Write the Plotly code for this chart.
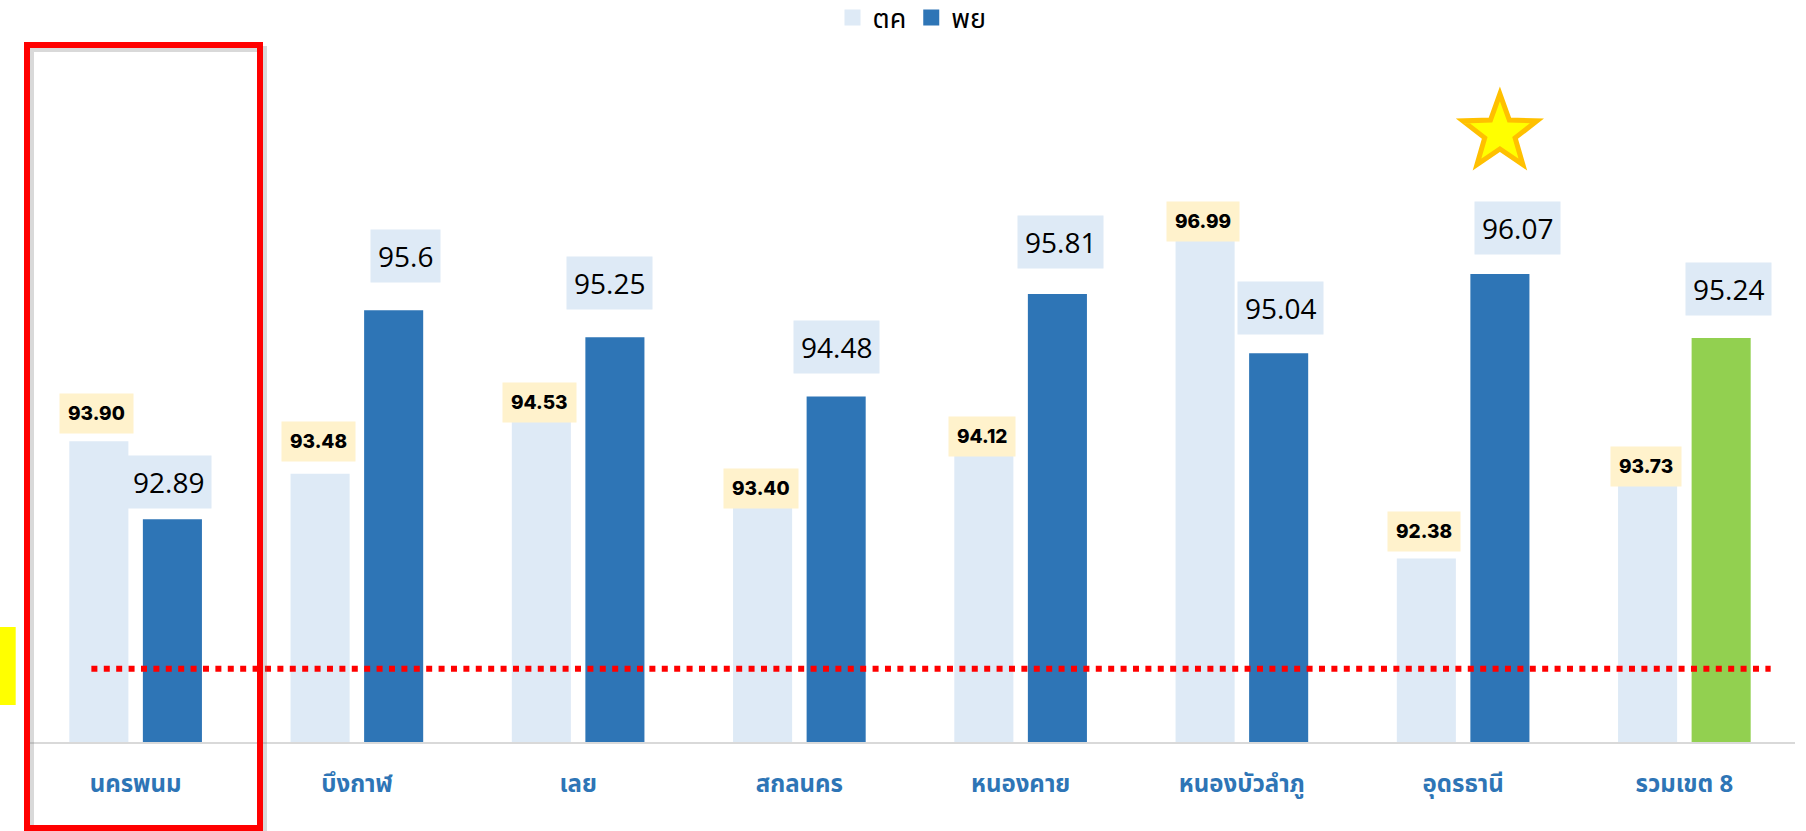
import numpy as np
import plotly.graph_objects as go

# ---------------- data ----------------
categories = ["นครพนม", "บึงกาฬ", "เลย", "สกลนคร", "หนองคาย", "หนองบัวลำภู", "อุดรธานี", "รวมเขต 8"]
oct_values = [93.90, 93.48, 94.53, 93.40, 94.12, 96.99, 92.38, 93.73]
nov_values = [92.89, 95.6, 95.25, 94.48, 95.81, 95.04, 96.07, 95.24]
oct_labels = ["93.90", "93.48", "94.53", "93.40", "94.12", "96.99", "92.38", "93.73"]
nov_labels = ["92.89", "95.6", "95.25", "94.48", "95.81", "95.04", "96.07", "95.24"]
target_value = 90.95
series_names = ["ตค", "พย"]

# ---------------- style / layout ----------------
W, H = 1806, 831
M_L, M_R, M_T, M_B = 25, 11, 48, 89
Y_RANGE = [90, 99]
LIGHT = "#DEEAF6"
DARK = "#2E75B6"
GREEN = "#92D050"
CREAM = "#FFF2CC"
THAI = "Noto Sans Thai, Tahoma, Leelawadee UI, DejaVu Sans, sans-serif"

# manual label nudges (pixels) to mimic hand-placed labels of the original
oct_label_dy = [28, 32, -10, -9, -12, -19, 27, -12]
nov_label_dy = [37, 54, 54, 50, 52, 45, 46, 49]
nov_label_dx = [-4, 12, -5, 0, 3, 2, 18, 7]

BARGAP = 0.335

plot_w = W - M_L - M_R
plot_h = H - M_T - M_B
cat_px = plot_w / len(categories)
BAR_OFF = cat_px * (1 - BARGAP) / 4


def px_x(p):
    return (p - M_L) / plot_w


def px_y(p):
    return (H - M_B - p) / plot_h


nov_colors = [DARK] * (len(categories) - 1) + [GREEN]

fig = go.Figure()
fig.add_trace(go.Bar(name=series_names[0], x=categories, y=oct_values, showlegend=False,
                     marker=dict(color=LIGHT, line=dict(width=0))))
fig.add_trace(go.Bar(name=series_names[1], x=categories, y=nov_values, showlegend=False,
                     marker=dict(color=nov_colors, line=dict(width=0))))
# legend entries with larger square swatches
for name, col in zip(series_names, [LIGHT, DARK]):
    fig.add_trace(go.Scatter(name=name, x=[None], y=[None], mode="markers",
                             marker=dict(symbol="square", size=20, color=col),
                             showlegend=True, hoverinfo="skip"))

annotations = []
for i, c in enumerate(categories):
    annotations.append(dict(
        x=c, y=oct_values[i], xref="x", yref="y", text=oct_labels[i],
        showarrow=False, xanchor="center", yanchor="middle",
        xshift=-BAR_OFF - 2, yshift=oct_label_dy[i],
        font=dict(family="Inter, Open Sans, sans-serif", size=19, color="#000000", weight=800),
        bgcolor=CREAM, borderpad=8))
    annotations.append(dict(
        x=c, y=nov_values[i], xref="x", yref="y", text=nov_labels[i],
        showarrow=False, xanchor="center", yanchor="middle",
        xshift=BAR_OFF + nov_label_dx[i], yshift=nov_label_dy[i],
        font=dict(family="Open Sans, sans-serif", size=28, color="#000000"),
        bgcolor=LIGHT, borderpad=7))

shapes = []
# target dotted line
shapes.append(dict(type="line", xref="x", yref="y", x0=-0.2, x1=7.39,
                   y0=target_value, y1=target_value,
                   line=dict(color="#FF0000", width=6, dash="6px,6.4px"), layer="above"))
# highlight frame (shadow + red)
shapes.append(dict(type="rect", xref="paper", yref="paper",
                   x0=px_x(31), x1=px_x(264), y0=px_y(832), y1=px_y(49),
                   line=dict(color="rgba(120,120,120,0.28)", width=6), layer="above"))
shapes.append(dict(type="rect", xref="paper", yref="paper",
                   x0=px_x(27), x1=px_x(260), y0=px_y(828), y1=px_y(45),
                   line=dict(color="#FF0000", width=6), layer="above"))
# yellow marker at the left edge
shapes.append(dict(type="rect", xref="paper", yref="paper",
                   x0=px_x(0), x1=px_x(15.7), y0=px_y(705), y1=px_y(627),
                   fillcolor="#FFFF00", line=dict(width=0), layer="above"))
# star above the best province
best = int(np.argmax(nov_values[:-1]))
R_out, R_in = 39, 16
cy_off = 141
pts = []
for k in range(10):
    ang = np.pi / 2 + k * np.pi / 5
    r = R_out if k % 2 == 0 else R_in
    pts.append((BAR_OFF + r * np.cos(ang), cy_off + r * np.sin(ang)))
path = "M" + " L".join(f"{px:.2f},{py:.2f}" for px, py in pts) + " Z"
shapes.append(dict(type="path", xref="x", yref="y", xsizemode="pixel", ysizemode="pixel",
                   xanchor=best, yanchor=nov_values[best], path=path,
                   fillcolor="#FFFF00", line=dict(color="#FFC000", width=5), layer="above"))

fig.update_layout(
    width=W, height=H,
    margin=dict(l=M_L, r=M_R, t=M_T, b=M_B, autoexpand=False),
    paper_bgcolor="white", plot_bgcolor="white",
    barmode="group", bargap=BARGAP, bargroupgap=0.197,
    showlegend=True,
    legend=dict(orientation="h", xref="container", yref="container",
                x=912 / W, xanchor="center", y=1 - 18 / H, yanchor="middle",
                font=dict(family=THAI, size=27, color="#000000"),
                itemwidth=30, traceorder="normal", bgcolor="rgba(0,0,0,0)"),
    xaxis=dict(showgrid=False, showline=True, linecolor="#D9D9D9", linewidth=2,
               ticks="", ticklabelstandoff=19,
               tickfont=dict(family=THAI, size=24, color=DARK, weight=700)),
    yaxis=dict(range=Y_RANGE, showgrid=False, showticklabels=False, zeroline=False,
               showline=False, ticks=""),
    annotations=annotations, shapes=shapes,
)

fig.write_html("out.html", config={"displayModeBar": False},
               post_script="document.body.style.margin='0px';")
